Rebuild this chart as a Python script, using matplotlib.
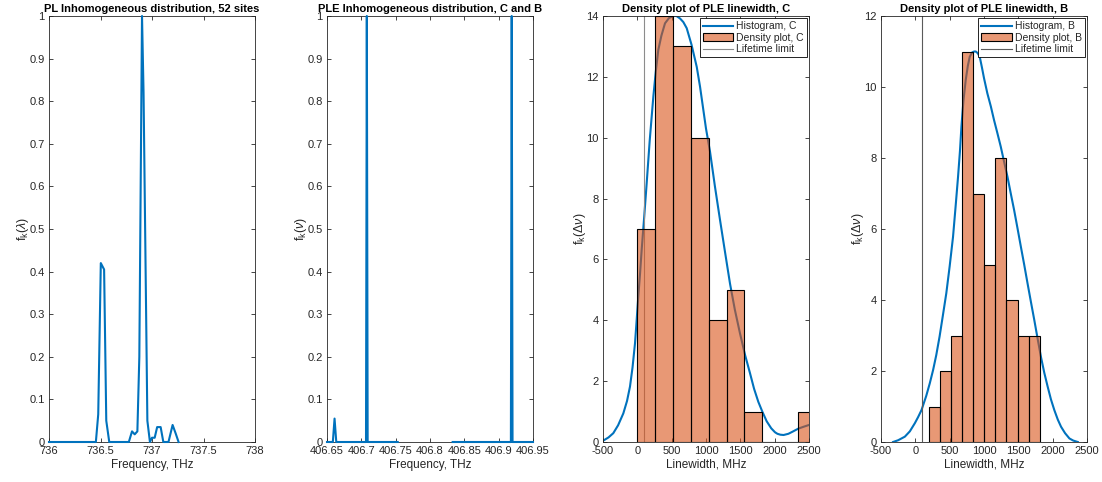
import numpy as np
import matplotlib
matplotlib.use('Agg')
import matplotlib.pyplot as plt
from matplotlib.ticker import FuncFormatter
from matplotlib.patches import Patch

plt.rcParams['font.family'] = ['Liberation Sans', 'DejaVu Sans']
plt.rcParams['mathtext.fontset'] = 'custom'
plt.rcParams['mathtext.rm'] = 'Liberation Sans'
plt.rcParams['mathtext.it'] = 'Liberation Sans:italic'

BLUE = '#0072BD'
ORANGE = '#D95319'
AXC = '#262626'

# PL spectrum, 52 sites
pl_freq = [736.0, 736.455, 736.478, 736.503, 736.535, 736.556, 736.585, 736.775,
           736.806, 736.832, 736.858, 736.877, 736.903, 736.918, 736.955, 736.98,
           737.0, 737.026, 737.05, 737.084, 737.11, 737.16, 737.2, 737.23, 737.258]
pl_val = [0, 0, 0.065, 0.42, 0.405, 0.05, 0, 0,
          0.025, 0.018, 0.025, 0.2, 1.0, 0.82, 0.05, 0,
          0.01, 0.01, 0.035, 0.035, 0, 0, 0.04, 0.02, 0]

# PLE spectra, C and B
ple_c_freq = [406.65, 406.6585, 406.661, 406.6635, 406.7068, 406.708, 406.7092, 406.753]
ple_c_val = [0, 0, 0.055, 0, 0, 1.0, 0, 0]
ple_b_freq = [406.833, 406.9178, 406.919, 406.9202, 406.95]
ple_b_val = [0, 0, 1.0, 0, 0]

# linewidth histogram + density, C
c_edges = [0, 260, 520, 780, 1040, 1300, 1560, 1820, 2080, 2340, 2600]
c_counts = [7, 14, 13, 10, 4, 5, 1, 0, 0, 1]
c_kde_x = [-500, -420, -350, -280, -204, -150, -107, -70, -34, -10, 14, 40, 63, 100,
           136, 180, 233, 270, 305, 350, 403, 460, 524, 570, 621, 670, 719, 790,
           865, 913, 1000, 1058, 1130, 1204, 1280, 1350, 1420, 1495, 1570, 1641,
           1700, 1762, 1820, 1884, 1950, 2005, 2040, 2083, 2130, 2200, 2270, 2345,
           2420, 2500]
c_kde_y = [0.04, 0.15, 0.29, 0.55, 0.94, 1.35, 1.82, 2.45, 3.24, 4.0, 4.78, 5.55, 6.31,
           7.4, 8.5, 9.9, 11.35, 12.2, 12.88, 13.35, 13.76, 13.93, 14.0, 14.0, 13.92,
           13.8, 13.6, 13.05, 12.33, 11.68, 10.3, 9.55, 8.4, 7.3, 6.2, 5.2, 4.35, 3.57,
           2.85, 2.26, 1.75, 1.32, 1.0, 0.68, 0.45, 0.32, 0.27, 0.24, 0.23, 0.27, 0.35,
           0.44, 0.5, 0.56]

# linewidth histogram + density, B
b_edges = [200, 361, 522, 683, 844, 1005, 1166, 1327, 1488, 1649, 1810]
b_counts = [1, 2, 3, 11, 7, 5, 8, 4, 3, 3]
b_kde_x = [-324, -250, -153, -80, -7, 40, 90, 159, 210, 259, 305, 353, 400, 451, 500,
           549, 585, 622, 650, 671, 700, 734, 765, 792, 825, 856, 880, 910, 938, 970,
           1000, 1049, 1100, 1146, 1195, 1244, 1292, 1342, 1390, 1439, 1488, 1537,
           1585, 1634, 1683, 1732, 1780, 1829, 1878, 1927, 1975, 2024, 2075, 2122,
           2180, 2244, 2300, 2366]
b_kde_y = [0, 0.05, 0.15, 0.3, 0.53, 0.7, 0.9, 1.3, 1.65, 2.03, 2.45, 2.97, 3.55, 4.19,
           4.95, 5.78, 6.6, 7.47, 8.2, 8.88, 9.6, 10.2, 10.6, 10.85, 10.97, 11.0, 11.0,
           10.95, 10.85, 10.55, 10.25, 9.82, 9.45, 9.07, 8.7, 8.32, 7.9, 7.47, 7.0, 6.53,
           6.02, 5.5, 5.0, 4.47, 3.95, 3.44, 2.92, 2.4, 1.95, 1.56, 1.2, 0.9, 0.63, 0.43,
           0.25, 0.1, 0.04, 0.0]

lifetime_limit = 100


def gfmt(v, pos):
    return '%g' % v


def style(ax):
    ax.tick_params(direction='in', length=3, width=0.6, colors=AXC, labelsize=8,
                   top=True, right=True, pad=3)
    for s in ax.spines.values():
        s.set_color(AXC)
        s.set_linewidth(0.6)
    ax.xaxis.set_major_formatter(FuncFormatter(gfmt))
    ax.yaxis.set_major_formatter(FuncFormatter(gfmt))


def labels(ax, title, xlabel, ylabel):
    ax.set_title(title, fontsize=8, fontweight='bold', pad=3)
    ax.set_xlabel(xlabel, fontsize=8.5, color=AXC, labelpad=2)
    ax.set_ylabel(ylabel, fontsize=9, color=AXC, labelpad=-1)


fig = plt.figure(figsize=(11.02, 4.82), dpi=100)
bottom, height = 1 - 442 / 482, 426 / 482
lefts = [49, 327, 603, 881]
axs = [fig.add_axes([l / 1102, bottom, 206 / 1102, height]) for l in lefts]

# panel 1
ax = axs[0]
ax.plot(pl_freq, pl_val, color=BLUE, lw=1.5, clip_on=False, zorder=3)
ax.set_xlim(736, 738)
ax.set_ylim(0, 1)
ax.set_xticks([736, 736.5, 737, 737.5, 738])
ax.set_yticks(np.arange(0, 1.01, 0.1))
labels(ax, 'PL Inhomogeneous distribution, 52 sites', 'Frequency, THz',
       r'f$_\mathrm{k}$($\lambda$)')
style(ax)

# panel 2
ax = axs[1]
ax.plot(ple_c_freq, ple_c_val, color=BLUE, lw=1.5, clip_on=False, zorder=3)
ax.plot(ple_b_freq, ple_b_val, color=BLUE, lw=1.5, clip_on=False, zorder=3)
ax.set_xlim(406.65, 406.95)
ax.set_ylim(0, 1)
ax.set_xticks([406.65, 406.7, 406.75, 406.8, 406.85, 406.9, 406.95])
ax.set_yticks(np.arange(0, 1.01, 0.1))
labels(ax, 'PLE Inhomogeneous distribution, C and B', 'Frequency, THz',
       r'f$_\mathrm{k}$($\nu$)')
style(ax)


def density_panel(ax, kx, ky, edges, counts, tag, ymax, lt_color):
    ax.plot(kx, ky, color=BLUE, lw=1.5, zorder=1)
    ax.axvline(lifetime_limit, color=lt_color, lw=0.8, zorder=1)
    widths = np.diff(edges)
    ax.bar(edges[:-1], counts, width=widths, align='edge', color=ORANGE, alpha=0.6,
           edgecolor='none', zorder=2)
    ax.bar(edges[:-1], counts, width=widths, align='edge', fill=False,
           edgecolor='black', lw=0.8, zorder=3)
    h_line = plt.Line2D([], [], color=BLUE, lw=1.5)
    h_patch = Patch(facecolor=(0.85, 0.325, 0.098, 0.6), edgecolor='black', lw=0.8)
    h_lt = plt.Line2D([], [], color=lt_color, lw=0.8)
    leg = ax.legend([h_line, h_patch, h_lt],
                    ['Histogram, ' + tag, 'Density plot, ' + tag, 'Lifetime limit'],
                    loc='upper right', fontsize=7.5, frameon=True, fancybox=False,
                    handlelength=2.9, handletextpad=0.3, borderpad=0.3,
                    labelspacing=0.15, borderaxespad=0.2, framealpha=1)
    leg.get_frame().set_edgecolor('black')
    leg.get_frame().set_linewidth(0.6)
    for t in leg.get_texts():
        t.set_color(AXC)
    ax.set_xlim(-500, 2500)
    ax.set_ylim(0, ymax)
    ax.set_xticks(np.arange(-500, 2501, 500))
    ax.set_yticks(np.arange(0, ymax + 1, 2))
    labels(ax, 'Density plot of PLE linewidth, ' + tag, 'Linewidth, MHz',
           r'f$_\mathrm{k}$($\Delta\nu$)')
    style(ax)


density_panel(axs[2], c_kde_x, c_kde_y, c_edges, c_counts, 'C', 14, '#8c8c8c')
density_panel(axs[3], b_kde_x, b_kde_y, b_edges, b_counts, 'B', 12, '#5a5a5a')

fig.savefig('out.png', dpi=100)
